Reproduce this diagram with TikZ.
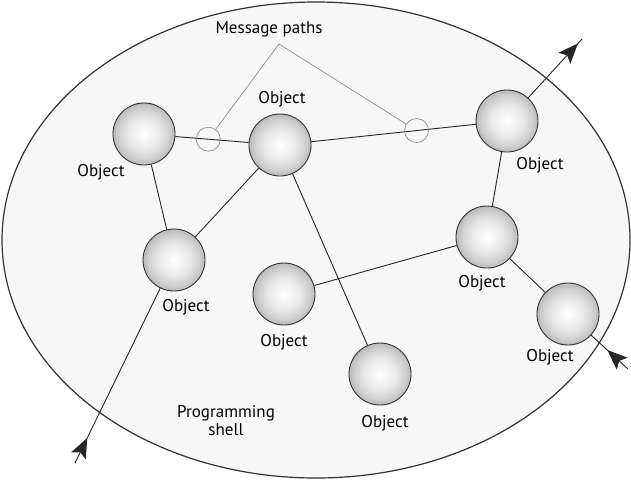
\documentclass[tikz,border=0pt]{standalone}
\usepackage{fontspec}
\setmainfont{PT Sans}
\usepackage{tikz}
\usetikzlibrary{arrows.meta,decorations.markings}

\pgfdeclareradialshading{objball}{\pgfpoint{0bp}{0bp}}{color(0bp)=(white); color(13bp)=(black!9); color(20bp)=(black!18); color(25bp)=(black!27); color(50bp)=(black!27)}

\begin{document}
\begin{tikzpicture}[x=1pt,y=-1pt,
		object/.style={circle,draw=black!80,line width=0.9pt,minimum size=62pt,inner sep=0pt,shading=objball},
		objtext/.style={font=\fontsize{17}{20}\selectfont,inner sep=0pt},
		pathmark/.style={circle,draw=black!45,line width=0.7pt,minimum size=24pt,inner sep=0pt},
		link/.style={draw=black!85,line width=0.9pt},
		msgline/.style={draw=black!45,line width=0.7pt},
		outarrow/.style={link,postaction={decorate},decoration={markings,mark=at position -6pt with {\arrow{Stealth[length=20pt,width=16pt,inset=4pt]}}}},
		inarrow/.style={link,postaction={decorate},decoration={markings,mark=at position 28pt with {\arrow{Stealth[length=20pt,width=16pt,inset=4pt]}}}}]
	\useasboundingbox (0,0) rectangle (631,480);
	% programming shell
	\draw[fill=black!3,draw=black!80,line width=1.2pt] (316,240) ellipse [x radius=314, y radius=238];
	%
	\node[object] (A) at (144,134) {};
	\node[object] (B) at (280,145) {};
	\node[object] (C) at (507,121) {};
	\node[object] (D) at (174,260) {};
	\node[object] (E) at (487,237) {};
	\node[object] (F) at (284,294) {};
	\node[object] (G) at (568,314) {};
	\node[object] (H) at (380,374) {};
	%
	\node[objtext] (tA) at (101,172) {Object};
	\node[objtext] (tB) at (282,99) {Object};
	\node[objtext] (tC) at (540,165) {Object};
	\node[objtext] (tD) at (186,307) {Object};
	\node[objtext] (tE) at (482,283) {Object};
	\node[objtext] (tF) at (284,342) {Object};
	\node[objtext] (tG) at (550,357) {Object};
	\node[objtext] (tH) at (385,423) {Object};
	\node[objtext,align=center] (shell) at (226,421) {Programming\\[-2pt]shell};
	\node[objtext] (msg) at (269,29) {Message paths};
	%
	\coordinate (apex) at (279,44);
	\coordinate (neend) at (582,39);
	\coordinate (swend) at (75,463);
	\coordinate (seend) at (628,369);
	%
	\draw[link] (A) -- node[pathmark,pos=0.45] (m1) {} (B);
	\draw[link] (B) -- node[pathmark,pos=0.64] (m2) {} (C);
	\draw[link] (A) -- (D);
	\draw[link] (D) -- (B);
	\draw[link] (B) -- (H);
	\draw[link] (C) -- (E);
	\draw[link] (E) -- (F);
	\draw[link] (E) -- (G);
	\draw[outarrow] (C) -- (neend);
	\draw[inarrow] (swend) -- (D);
	\draw[inarrow] (seend) -- (G);
	%
	\draw[msgline] (apex) -- (m1);
	\draw[msgline] (apex) -- (m2);
\end{tikzpicture}
\end{document}
